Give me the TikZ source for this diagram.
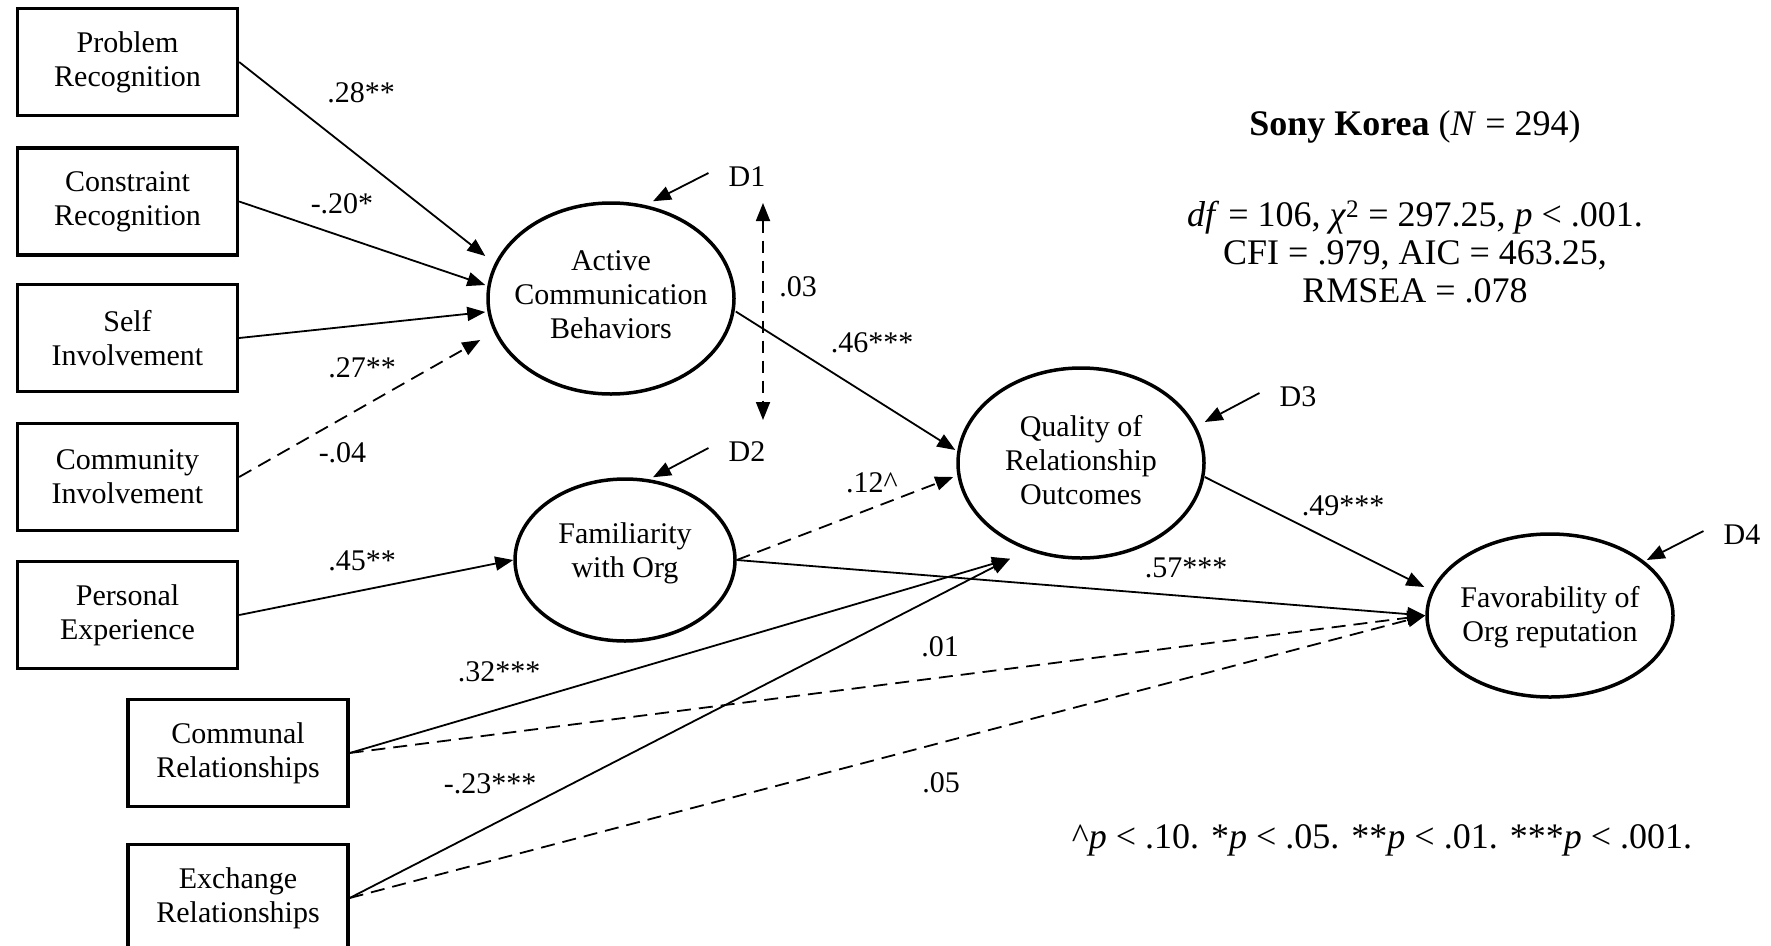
\documentclass[tikz,border=0pt]{standalone}
\usepackage{fontspec}
\setmainfont{Liberation Serif}
\usetikzlibrary{arrows.meta,shapes.geometric,calc}

\begin{document}
\begin{tikzpicture}[x=1pt,y=-1pt,
  >={Triangle[length=18pt,width=14pt]},
  every node/.style={font=\fontsize{30}{34}\selectfont, align=center, inner sep=0pt},
  varbox/.style={draw, line width=3.3pt, minimum width=220pt, minimum height=107pt},
  latent/.style={draw, ellipse, line width=3.5pt},
  effect/.style={line width=1.8pt, ->},
  nseffect/.style={effect, dash pattern=on 14pt off 8pt},
  stat/.style={font=\fontsize{36}{38}\selectfont},
]
\useasboundingbox (0,0) rectangle (1771,945);

% observed predictors
\node[varbox] (prob) at (127.5,62)  {Problem\\Recognition};
\node[varbox] (cons) at (127.5,201.5) {Constraint\\Recognition};
\node[varbox] (self) at (127.5,338) {Self\\Involvement};
\node[varbox] (comm) at (127.5,477) {Community\\Involvement};
\node[varbox] (pers) at (127.5,615) {Personal\\Experience};
\node[varbox] (cmnl) at (238,753)   {Communal\\Relationships};
\node[varbox] (exch) at (238,898)   {Exchange\\Relationships};

% latent variables
\node[latent, minimum width=246pt, minimum height=191pt] (act)  at (611,298.5) {};
\node[latent, minimum width=220pt, minimum height=162pt] (fam)  at (625,560) {};
\node[latent, minimum width=246pt, minimum height=190pt] (qual) at (1081,463) {};
\node[latent, minimum width=246pt, minimum height=163pt] (fav)  at (1550,615.5) {};
\node (actT)  at (611,295)    {Active\\Communication\\Behaviors};
\node (famT)  at (625,553.5)  {Familiarity\\with Org};
\node (qualT) at (1081,460)   {Quality of\\Relationship\\Outcomes};
\node (favT)  at (1550,617)   {Favorability of\\Org reputation};

% structural paths
\draw[effect]   (prob.east) -- ($(act.west)+(-1,-42.5)$);
\draw[effect]   (cons.east) -- ($(act.west)+(-1,-13.5)$);
\draw[effect]   (self.east) -- ($(act.west)+(-1,13.5)$);
\draw[nseffect] (comm.east) -- ($(act.west)+(-6,41.5)$);
\draw[effect]   (pers.east) -- (fam.west);
\draw[effect]   ($(act.east)+(0,13)$) -- ($(qual.west)+(-1,-13)$);
\draw[nseffect] (fam.east) -- ($(qual.west)+(-3,14)$);
\draw[effect]   (fam.east) -- (fav.west);
\draw[effect]   ($(qual.east)+(-1,14)$) -- ($(fav.west)+(-1,-28.5)$);
\draw[effect]   (cmnl.east) -- ($(qual.south)+(-71,-1)$);
\draw[effect]   (exch.east) -- ($(qual.south)+(-71,-1)$);
\draw[nseffect] (cmnl.east) -- (fav.west);
\draw[nseffect] (exch.east) -- (fav.west);

% covariance between disturbances D1 and D2
\coordinate (covT) at (763,203);
\coordinate (covB) at (763,420);
\draw[nseffect, <->, dash pattern=on 12pt off 8pt] (covT) -- (covB);

% disturbances
\node (d1) at (747,177)  {D1};
\node (d2) at (747,452)  {D2};
\node (d3) at (1298,397) {D3};
\node (d4) at (1742,535) {D4};
\draw[effect] ($(d1.west)+(-20,-4)$) -- ($(act.north)+(42,0)$);
\draw[effect] ($(d2.west)+(-20,-4)$) -- ($(fam.north)+(28,0)$);
\draw[effect] ($(d3.west)+(-20,-4)$) -- ($(qual.east)+(-1,-41)$);
\draw[effect] ($(d4.west)+(-20,-4)$) -- ($(fav.east)+(-28,-55.5)$);

% path coefficients
\node (c1)  at (361,93)   {.28**};
\node (c2)  at (342,204)  {-.20*};
\node (c3)  at (362,368)  {.27**};
\node (c4)  at (342.5,453) {-.04};
\node (c5)  at (362,561)  {.45**};
\node (c6)  at (499,672)  {.32***};
\node (c7)  at (490,784)  {-.23***};
\node (c8)  at (798,287)  {.03};
\node (c9)  at (872,343)  {.46***};
\node (c10) at (872,483)  {.12\textasciicircum};
\node (c11) at (1186,568) {.57***};
\node (c12) at (1343,506) {.49***};
\node (c13) at (940,647)  {.01};
\node (c14) at (941,783)  {.05};

% fit statistics and significance note
\node[stat] (title) at (1415,127) {\textbf{Sony Korea} (\textit{N} = 294)};
\node[stat] (fit) at (1415,252) {\textit{df} = 106, \textit{χ}\textsuperscript{2} = 297.25, \textit{p} < .001.\\CFI = .979, AIC = 463.25,\\RMSEA = .078};
\node[stat] (note) at (1382,840) {\textasciicircum\textit{p} < .10. *\textit{p} < .05. **\textit{p} < .01. ***\textit{p} < .001.};
\end{tikzpicture}
\end{document}
